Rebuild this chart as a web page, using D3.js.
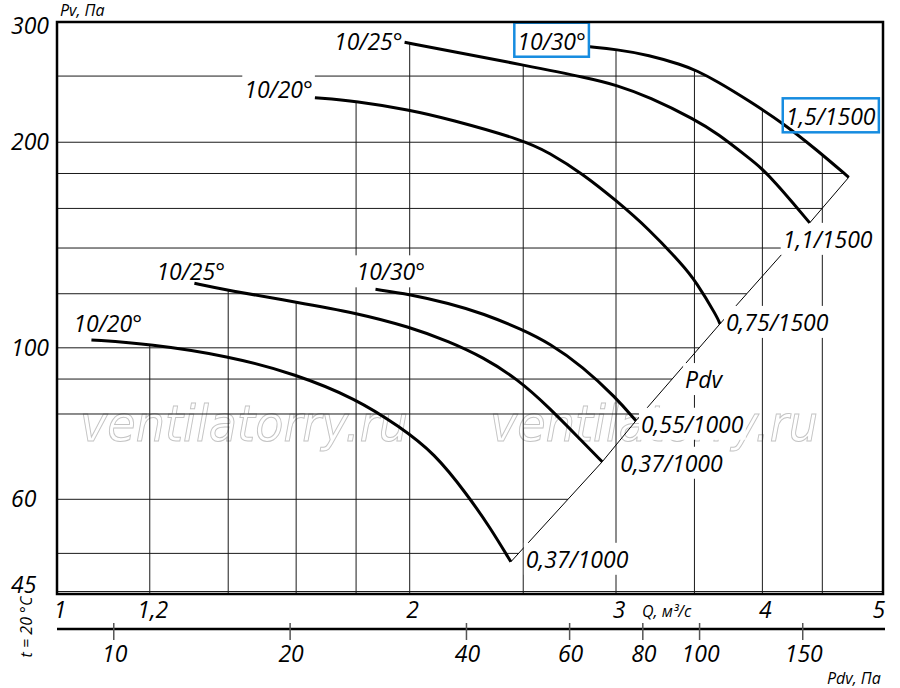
<!DOCTYPE html>
<html lang="ru">
<head>
<meta charset="utf-8">
<title>Pv(Q)</title>
<script src="https://cdn.jsdelivr.net/npm/d3@7"></script>
<style>
    body { margin: 0; background: #fff; }
    svg { display: block; font-family: "Open Sans", "DejaVu Sans", sans-serif; font-style: italic; }
    .grid line { stroke: #1a1a1a; stroke-width: 1; }
    .frame { fill: none; stroke: #000; stroke-width: 2.5; }
    .curve { fill: none; stroke: #000; stroke-width: 3; }
    .pdv-line { fill: none; stroke: #000; stroke-width: 1; }
    .label { font-size: 23px; fill: #000; }
    .label-bg { fill: #fff; }
    .mark-box { fill: none; stroke: #168ce0; stroke-width: 2.5; }
    .title { font-size: 16px; fill: #000; }
    .watermark { font-family: "DejaVu Sans", sans-serif; font-size: 50px; fill: none; stroke: #c4c4c4; stroke-width: 1; }
</style>
</head>
<body>
<svg id="chart" width="900" height="688"></svg>
<script>
// Q, м³/с
const qTicks = [1, 1.2, 2, 3, 4, 5];
const qTickLabels = ["1", "1,2", "2", "3", "4", "5"];
const qGrid = [1.2, 1.4, 1.6, 1.8, 2, 2.5, 3, 3.5, 4, 4.5];

// Pv, Па
const pvTicks = [300, 200, 100, 60, 45];
const pvGrid = [250, 200, 180, 160, 140, 120, 100, 90, 80, 60, 50];

// Pdv, Па (Pdv = 8·Q²)
const pdvTicks = [10, 20, 40, 60, 80, 100, 150];
const pdvPerQ2 = 8;

// curves [Q, Pv]
const fan1500_30 = [[2.85, 276], [3.0, 273.5], [3.2, 268.5], [3.42, 259.5], [3.51, 254.9], [3.66, 245.7], [3.9, 229.8], [4.17, 213], [4.45, 195], [4.74, 177.7]];
const fan1500_25 = [[1.98, 280.2], [2.16, 272.3], [2.5, 259.5], [2.85, 248.1], [3.0, 242.6], [3.2, 233.2], [3.51, 215.6], [3.66, 206.1], [3.9, 189.4], [3.98, 184.2], [4.11, 174.1], [4.25, 162.8], [4.39, 152.4]];
const fan1500_20 = [[1.66, 232.4], [1.8, 229.8], [2.0, 223], [2.16, 216.3], [2.5, 201.5], [2.63, 193.2], [2.81, 179.8], [3.0, 164.4], [3.2, 149.3], [3.42, 132.2], [3.51, 125.1], [3.66, 111], [3.68, 108.4]];
const fan1000_30 = [[1.87, 121.8], [2.0, 119.8], [2.16, 116.2], [2.31, 112.3], [2.5, 106.2], [2.63, 101.6], [2.81, 93.9], [3.0, 84.5], [3.12, 78.2]];
const fan1000_25 = [[1.31, 124.3], [1.4, 121.3], [1.6, 116.7], [1.8, 112.5], [2.0, 107.3], [2.16, 102.2], [2.31, 96.9], [2.47, 90.1], [2.63, 81.8], [2.81, 72.8], [2.92, 68.1]];
const fan1000_20 = [[1.07, 102.7], [1.2, 101.3], [1.4, 97.3], [1.6, 91.5], [1.8, 84.2], [1.96, 76.7], [2.1, 70.1], [2.24, 60.9], [2.34, 54.7], [2.44, 48.6]];

const curveSeries = [fan1500_30, fan1500_25, fan1500_20, fan1000_30, fan1000_25, fan1000_20];
const bladeLabels = ["10/30°", "10/25°", "10/20°", "10/30°", "10/25°", "10/20°"];
const motorLabels = ["1,5/1500", "1,1/1500", "0,75/1500", "0,55/1000", "0,37/1000", "0,37/1000"];
const boxed = [true, false, false, false, false, false];

const watermarkText = "ventilatorry.ru";

/**
 * Аэродинамическая характеристика вентилятора, d3 v7
 */
class FanChart {
    #target = "";
    #frame = { left: 57, right: 883, top: 22, bottom: 594 };
    #pdvAxisY = 629;

    // label offsets from curve start / end, px
    #placeBlade = [
        { dx: -4, dy: 3, anchor: "end" },
        { dx: -2, dy: 8, anchor: "end" },
        { dx: -2, dy: 0, anchor: "end" },
        { dx: -19, dy: -9, anchor: "start" },
        { dx: -38, dy: -3, anchor: "start" },
        { dx: -18, dy: -8, anchor: "start" }
    ];
    #placeMotor = [
        { dx: -63, dy: -52 },
        { dx: -27, dy: 25 },
        { dx: 6, dy: 7 },
        { dx: 5, dy: 12 },
        { dx: 18, dy: 10 },
        { dx: 15, dy: 6 }
    ];

    constructor(target) { this.#target = target; }

    show() {
        const tag = this.#init();
        this.#drawGrid(tag);
        this.#drawAxes(tag);
        this.#drawCurves(tag);
    }

    #init() {
        const f = this.#frame;
        let tag = {};
        tag.svg = d3.select(this.#target);

        tag.x = d3.scaleLog().domain([1, 5.07]).range([f.left, f.right]);
        tag.y = d3.scaleLog().domain([43.6, 300]).range([f.bottom, f.top]);
        tag.xPdv = d3.scaleLog().domain(tag.x.domain().map(q => pdvPerQ2 * q * q)).range(tag.x.range());

        // curve ends make the Pdv line
        tag.ends = curveSeries.map(c => c[c.length - 1]).sort((a, b) => a[0] - b[0]);

        // layers
        tag.gMark = tag.svg.append("g");
        tag.gGrid = tag.svg.append("g").attr("class", "grid");
        tag.gPdv = tag.svg.append("g");
        tag.gBg = tag.svg.append("g");
        tag.gCurve = tag.svg.append("g");
        tag.gText = tag.svg.append("g");
        tag.gBox = tag.svg.append("g");
        tag.gAxis = tag.svg.append("g");
        return tag;
    }

    /** log-log interpolation of Pv at q, null when out of range */
    #pvAt(curve, q) {
        if (q < curve[0][0] || q > curve[curve.length - 1][0]) return null;
        const i = Math.max(1, d3.bisector(d => d[0]).left(curve, q));
        const a = curve[i - 1], b = curve[i];
        const t = Math.log(q / a[0]) / Math.log(b[0] / a[0]);
        return Math.exp(Math.log(a[1]) + t * Math.log(b[1] / a[1]));
    }

    /** Q where a polyline reaches pv */
    #qAt(line, pv) {
        for (let i = 1; i < line.length; i++) {
            const a = line[i - 1], b = line[i];
            if ((pv - a[1]) * (pv - b[1]) <= 0) {
                const t = Math.log(pv / a[1]) / Math.log(b[1] / a[1]);
                return Math.exp(Math.log(a[0]) + t * Math.log(b[0] / a[0]));
            }
        }
        return null;
    }

    #drawGrid(tag) {
        const f = this.#frame;
        const x = tag.x, y = tag.y;
        const outer = curveSeries[0];
        const outerEnd = outer[outer.length - 1];

        // watermark under the grid
        [244, 654].forEach(cx => {
            tag.gMark.append("text").attr("class", "watermark")
                .attr("x", cx).attr("y", 441).attr("text-anchor", "middle")
                .attr("textLength", 328).attr("lengthAdjust", "spacingAndGlyphs")
                .text(watermarkText);
        });

        // vertical lines end at the upper envelope
        const topPv = q => d3.max(curveSeries, c => this.#pvAt(c, q));
        tag.gGrid.selectAll(".v").data(qGrid).join("line")
            .attr("x1", d => x(d)).attr("x2", d => x(d))
            .attr("y1", d => { const p = topPv(d); return p ? y(p) : f.top; })
            .attr("y2", f.bottom);

        // horizontal lines end at the outer curve or at the Pdv line
        const rightQ = pv => pv >= outerEnd[1] ? this.#qAt(outer, pv) : this.#qAt(tag.ends, pv);
        tag.gGrid.selectAll(".h").data(pvGrid).join("line")
            .attr("x1", f.left)
            .attr("x2", d => { const q = rightQ(d); return q ? x(q) : f.right; })
            .attr("y1", d => y(d)).attr("y2", d => y(d));

        tag.gGrid.append("line")
            .attr("x1", f.left).attr("x2", f.right)
            .attr("y1", f.bottom - 2.5).attr("y2", f.bottom - 2.5);

        tag.svg.append("rect").attr("class", "frame")
            .attr("x", f.left).attr("y", f.top)
            .attr("width", f.right - f.left).attr("height", f.bottom - f.top);
    }

    #drawAxes(tag) {
        const f = this.#frame;
        const g = tag.gAxis;

        // Pv ticks
        g.selectAll(".pv").data(pvTicks).join("text").attr("class", "label")
            .attr("x", 11).attr("y", d => Math.max(tag.y(d), 26) + 8)
            .text(d => d);
        g.append("text").attr("class", "title").attr("x", 60).attr("y", 16).text("Pv, Па");

        // Q ticks
        g.selectAll(".q").data(qTicks).join("text").attr("class", "label")
            .attr("x", d => tag.x(d) + 3).attr("y", 618).attr("text-anchor", "middle")
            .text((d, i) => qTickLabels[i]);
        g.append("text").attr("class", "title").attr("x", 642).attr("y", 617).text("Q, м³/с");

        // Pdv axis
        const ay = this.#pdvAxisY;
        g.append("line").attr("x1", f.left).attr("x2", f.right + 2)
            .attr("y1", ay).attr("y2", ay).attr("stroke", "#000").attr("stroke-width", 2.5);
        g.selectAll(".pdv-tick").data(pdvTicks).join("line")
            .attr("x1", d => tag.xPdv(d)).attr("x2", d => tag.xPdv(d))
            .attr("y1", ay - 6).attr("y2", ay + 11)
            .attr("stroke", "#555").attr("stroke-width", 1.5);
        g.selectAll(".pdv").data(pdvTicks).join("text").attr("class", "label")
            .attr("x", d => tag.xPdv(d) + 1).attr("y", 662).attr("text-anchor", "middle")
            .text(d => d);
        g.append("text").attr("class", "title").attr("x", 827).attr("y", 684).text("Pdv, Па");

        g.append("text").attr("class", "title")
            .attr("transform", "translate(32,627) rotate(-90)")
            .attr("text-anchor", "middle").text("t = 20 °C");
    }

    #drawCurves(tag) {
        const x = tag.x, y = tag.y;
        const line = d3.line().x(d => x(d[0])).y(d => y(d[1]));

        // Pdv line through the last points
        tag.gPdv.append("path").attr("class", "pdv-line").attr("d", line(tag.ends));

        const smooth = d3.line().x(d => x(d[0])).y(d => y(d[1])).curve(d3.curveBasis);
        tag.gCurve.selectAll("path").data(curveSeries).join("path")
            .attr("class", "curve")
            .attr("d", d => smooth(d));

        curveSeries.forEach((c, i) => {
            const s = c[0], e = c[c.length - 1];
            const pb = this.#placeBlade[i], pm = this.#placeMotor[i];
            this.#addLabel(tag, bladeLabels[i], x(s[0]) + pb.dx, y(s[1]) + pb.dy, pb.anchor, boxed[i]);
            this.#addLabel(tag, motorLabels[i], x(e[0]) + pm.dx, y(e[1]) + pm.dy, "start", boxed[i]);
        });

        // "Pdv" next to its line
        const q90 = this.#qAt(tag.ends, 90);
        this.#addLabel(tag, "Pdv", x(q90) + 13, y(90) + 9, "start", false);
    }

    #addLabel(tag, text, px, py, anchor, box) {
        const t = tag.gText.append("text").attr("class", "label")
            .attr("x", px).attr("y", py).attr("text-anchor", anchor).text(text);
        const b = t.node().getBBox();
        tag.gBg.append("rect").attr("class", "label-bg")
            .attr("x", b.x - 2).attr("y", b.y).attr("width", b.width + 4).attr("height", b.height);
        if (box) {
            tag.gBox.append("rect").attr("class", "mark-box")
                .attr("x", b.x - 3).attr("y", b.y - 2).attr("width", b.width + 6).attr("height", b.height + 2);
        }
    }
}

const chart = new FanChart("#chart");
chart.show();
</script>
</body>
</html>
